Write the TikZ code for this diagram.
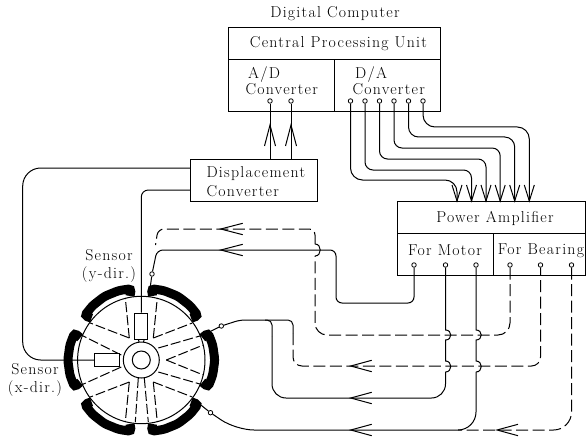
\documentclass[tikz,border=0pt]{standalone}
\usepackage{fontspec}
\setmainfont{Latin Modern Roman}[LetterSpace=8]
\usetikzlibrary{positioning}

\tikzset{
	box/.style={draw,rectangle,line width=1pt,inner sep=0pt},
	label text/.style={align=left,inner sep=0pt,font=\fontsize{15.8}{16}\selectfont},
	term/.style={draw,circle,fill=white,line width=0.8pt,minimum size=4.5pt,inner sep=0pt},
	dashln/.style={dash pattern=on 12pt off 4.5pt},
	spoke/.style={dash pattern=on 10pt off 3pt},
	coil/.style={line width=9pt,rounded corners=3pt}
}

\begin{document}
\begin{tikzpicture}[x=1pt,y=-1pt,line width=1pt]
	\useasboundingbox (0,0) rectangle (586,441);
	
	% Digital computer
	\node[label text] (dctitle) at (335,14) {Digital Computer};
	\node[box,minimum width=212pt,minimum height=32pt] (cpu) at (334,44) {};
	\node[box,minimum width=106pt,minimum height=52pt] (adc) at (281,86) {};
	\node[box,minimum width=106pt,minimum height=52pt] (dac) at (387,86) {};
	\node[label text] (cpulabel) at (338.5,44) {Central Processing Unit};
	\node[label text,anchor=west] (adclabel) at (245,81) {\,A/D\\Converter};
	\node[label text,anchor=west] (daclabel) at (352,81) {\,D/A\\Converter};
	
	% Displacement converter
	\node[box,minimum width=127pt,minimum height=42pt] (dconv) at (253.5,180) {};
	\node[label text,anchor=west] (dconvlabel) at (206,182) {Displacement\\[3pt]Converter};
	
	% Power amplifier
	\node[box,minimum width=188pt,minimum height=32pt] (pamp) at (491.5,217) {};
	\node[box,minimum width=95.5pt,minimum height=42pt] (pmotor) at (445.25,254) {};
	\node[box,minimum width=92.5pt,minimum height=42pt] (pbear) at (539.25,254) {};
	\node[label text] (pamplabel) at (495,218) {Power Amplifier};
	\node[label text] (pmotorlabel) at (445,250.5) {For Motor};
	\node[label text] (pbearlabel) at (541,250.5) {For Bearing};
	
	% Sensor labels
	\node[label text,align=center] (sylabel) at (109,266) {Sensor\\[2pt](y-dir.)};
	\node[label text,align=center] (sxlabel) at (35,380) {Sensor\\[2pt](x-dir.)};
	
	% Terminals
	\node[term] (ad1) at (270,101) {};
	\node[term] (ad2) at (291,101) {};
	\node[term] (da1) at (350.5,101) {};
	\node[term] (da2) at (365,101) {};
	\node[term] (da3) at (379.5,101) {};
	\node[term] (da4) at (394,101) {};
	\node[term] (da5) at (408.5,101) {};
	\node[term] (da6) at (423,101) {};
	\node[term] (m1) at (414,265) {};
	\node[term] (m2) at (445.5,265) {};
	\node[term] (m3) at (476,265) {};
	\node[term] (b1) at (510,265) {};
	\node[term] (b2) at (540.5,265) {};
	\node[term] (b3) at (571.5,265) {};
	\node[term] (lead1) at (152,274) {};
	\node[term] (lead2) at (221.3,326) {};
	\node[term] (lead3) at (210.5,412.7) {};
	
	% Motor: windings, rotor, spokes
	\begin{scope}[shift={(141.3,360)}]
		\foreach \a in {0,60,...,300}
			\draw[coil] ({\a-20}:65) -- ({\a-22}:72) -- ({\a-12}:73) -- (\a:73.5) -- ({\a+12}:73) -- ({\a+22}:72) -- ({\a+20}:65);
		\node[draw,circle,fill=white,minimum size=127.4pt,inner sep=0pt] (rotor) at (0,0) {};
		\foreach \xa/\ya/\xb/\yb in {25/0/62/-15,25/0/62/15,17/-12/62/-25,17/12/62/25,
			12/-22/16/-62,12/-22/51/-37,-12/-22/-16/-62,-12/-22/-51/-37,
			12/22/16/62,12/22/51/37,-12/22/-16/62,-12/22/-51/37,
			-20/-5/-60/-25,-20/7/-60/25,-3/18/-6/62,3/18/7/62}
			\draw[spoke] (\xa,\ya) -- (\xb,\yb);
		\draw (-3,-21) -- (-2,-17);
		\draw (3,-21) -- (2,-17);
		\node[draw,circle,fill=white,minimum size=36pt,inner sep=0pt] (hub) at (0,0) {};
		\node[draw,circle,minimum size=18pt,inner sep=0pt] (shaft) at (0,0) {};
	\end{scope}
	\node[box,fill=white,minimum width=25.3pt,minimum height=12.7pt] (sx) at (107.3,360) {};
	\node[box,fill=white,minimum width=12.7pt,minimum height=26pt] (sy) at (141.3,326) {};
	
	% Arrow points
	\coordinate (up1) at (270,125);
	\coordinate (up2) at (291,125);
	\coordinate (dn1) at (457,201);
	\coordinate (dn2) at (471.5,201);
	\coordinate (dn3) at (486,201);
	\coordinate (dn4) at (500.2,201);
	\coordinate (dn5) at (514.7,201);
	\coordinate (dn6) at (529.3,201);
	\coordinate (lf1) at (220.7,229);
	\coordinate (lf2) at (220.7,250);
	\coordinate (lf3) at (350.7,366);
	\coordinate (lf4) at (350.7,398);
	\coordinate (lf5) at (350.7,430);
	\coordinate (lf6) at (497,430);
	
	% Displacement converter to A/D converter
	\draw (dconv.north -| ad1) -- (ad1);
	\draw (dconv.north -| ad2) -- (ad2);
	\foreach \p in {up1,up2}
		\draw (\p) ++(-5.5,21) -- (\p) -- ++(5.5,21);
	
	% D/A converter to power amplifier
	\draw[rounded corners=12pt] (da1) -- (350.5,180) -- (457,180) -- (dn1);
	\draw[rounded corners=8pt] (da2) -- (365,170) -- (471.5,170) -- (dn2);
	\draw[rounded corners=8pt] (da3) -- (379.5,159) -- (486,159) -- (dn3);
	\draw[rounded corners=8pt] (da4) -- (394,148) -- (500.2,148) -- (dn4);
	\draw[rounded corners=10pt] (da5) -- (408.5,137) -- (514.7,137) -- (dn5);
	\draw[rounded corners=12pt] (da6) -- (423,127) -- (529.3,127) -- (dn6);
	\foreach \p in {dn1,dn2,dn3,dn4,dn5,dn6}
		\draw (\p) ++(-5,-16) -- (\p) -- ++(5,-16);
	
	% Sensor signal lines
	\coordinate (dc1) at (190,168);
	\coordinate (dc2) at (190,190);
	\draw[rounded corners=18pt] (dc1) -- (22.7,168) -- (22.7,360) -- (sx.west);
	\draw[rounded corners=7pt] (dc2) -- (141.3,190) -- (sy.north);
	
	% Motor line 1 with upper lead
	\coordinate (wind1) at (149,296.7);
	\draw[rounded corners=6pt] (m1) -- (414,303) -- (336,303) -- (336,250) -- (157,250) -- (lead1);
	\draw (lead1) -- (wind1);
	
	% Bearing line 1
	\draw[dashln,rounded corners=12pt] (b1) -- (510,335) -- (315,335) -- (315,256);
	\draw (315,256) .. controls +(7,0) and +(7,0) .. (315,244);
	\draw[dashln,rounded corners=6pt] (315,244) -- (315,229) -- (158,229) -- (155.5,245);
	
	% Motor line 2 with right lead
	\coordinate (wind2) at (203,335);
	\coordinate (split2) at (265,320);
	\draw (wind2) -- (lead2);
	\draw[rounded corners=5pt] (lead2) -- (240,320) -- (293,320) -- (293,333);
	\draw[rounded corners=5pt] (split2) -- (272,320) -- (272,336);
	\draw[rounded corners=14pt] (272,336) -- (272,398) -- (445.5,398) -- (445.5,372);
	\draw (445.5,372) .. controls +(7,0) and +(7,0) .. (445.5,361) -- (445.5,340) .. controls +(7,0) and +(7,0) .. (445.5,330) -- (m2);
	
	% Bearing line 2
	\draw[dashln,rounded corners=9pt] (293,333) -- (293,366) -- (540.5,366) -- (b2);
	
	% Motor line 3 with lower lead
	\coordinate (wind3) at (196.7,401.7);
	\draw (wind3) -- (lead3);
	\draw[rounded corners=18pt] (lead3) -- (236,430) -- (476,430) -- (476,372);
	\draw (476,372) .. controls +(7,0) and +(7,0) .. (476,361) -- (476,340) .. controls +(7,0) and +(7,0) .. (476,330) -- (m3);
	
	% Bearing line 3
	\draw[dashln,rounded corners=18pt] (b3) -- (571.5,430) -- (458,430);
	
	% Arrow heads on the lines
	\foreach \p in {lf1,lf2}
		\draw (\p) ++(22,-5.7) -- (\p) -- ++(22,5.7);
	\foreach \p in {lf3,lf4,lf5,lf6}
		\draw (\p) ++(21,-5.7) -- (\p) -- ++(21,5.7);
\end{tikzpicture}
\end{document}
